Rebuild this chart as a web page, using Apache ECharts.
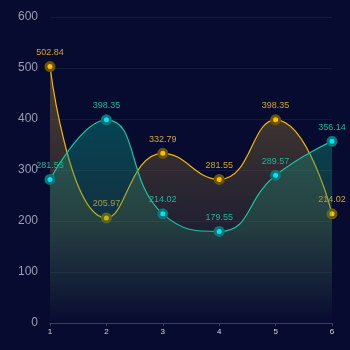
<!DOCTYPE html>
<html>
<head>
<meta charset="utf-8">
<script src="https://cdn.jsdelivr.net/npm/echarts@6/dist/echarts.min.js"></script>
<style>
  html, body { margin: 0; padding: 0; background: #070b30; }
  #chart { width: 350px; height: 350px; }
</style>
</head>
<body>
<div id="chart"></div>
<script>
// Categories along the x axis
const categories = ['1', '2', '3', '4', '5', '6'];
// Gold series
const goldValues = [502.84, 205.97, 332.79, 281.55, 398.35, 214.02];
// Teal series
const tealValues = [281.55, 398.35, 214.02, 179.55, 289.57, 356.14];
// Y axis range
const yTicks = [0, 100, 200, 300, 400, 500, 600];

const chart = echarts.init(document.getElementById('chart'), null, { renderer: 'canvas' });

function grad(stops) {
  return new echarts.graphic.LinearGradient(0, 0, 0, 1,
    stops.map(s => ({ offset: s[0], color: s[1] })));
}

chart.setOption({
  backgroundColor: '#070b30',
  animation: false,
  grid: { left: 50, right: 18, top: 17, bottom: 27 },
  xAxis: {
    type: 'category',
    data: categories,
    boundaryGap: false,
    axisLine: { lineStyle: { color: '#3b3f63', width: 1 } },
    axisTick: { show: true, length: 3, lineStyle: { color: '#3b3f63' } },
    axisLabel: { color: '#d8d9e4', fontSize: 8, margin: 5 },
    splitLine: { show: false }
  },
  yAxis: {
    type: 'value',
    min: yTicks[0],
    max: yTicks[yTicks.length - 1],
    interval: 100,
    axisLine: { show: false },
    axisTick: { show: false },
    axisLabel: { color: '#9a9db3', fontSize: 12, margin: 12 },
    splitLine: { lineStyle: { color: 'rgba(255,255,255,0.06)' } }
  },
  series: [
    {
      name: 'gold',
      type: 'line',
      smooth: true,
      data: goldValues,
      symbol: 'circle',
      symbolSize: 8,
      itemStyle: { color: '#ffc000', borderColor: '#6e5400', borderWidth: 3 },
      lineStyle: { color: '#f2b600', width: 1.2 },
      label: { show: true, position: 'top', color: '#d4a52a', fontSize: 9, distance: 4 },
      areaStyle: { color: grad([[0, 'rgba(140,110,50,0.75)'], [0.6, 'rgba(120,100,55,0.35)'], [1, 'rgba(120,100,60,0)']]) },
      z: 2
    },
    {
      name: 'teal',
      type: 'line',
      smooth: true,
      data: tealValues,
      symbol: 'circle',
      symbolSize: 8,
      itemStyle: { color: '#00e4ff', borderColor: '#0a7676', borderWidth: 3 },
      lineStyle: { color: '#19c2a0', width: 1.2 },
      label: { show: true, position: 'top', color: '#17b898', fontSize: 9, distance: 4 },
      areaStyle: { color: grad([[0, 'rgba(0,145,135,0.6)'], [0.5, 'rgba(45,145,105,0.4)'], [1, 'rgba(40,140,110,0)']]) },
      z: 3
    }
  ]
});
</script>
</body>
</html>
